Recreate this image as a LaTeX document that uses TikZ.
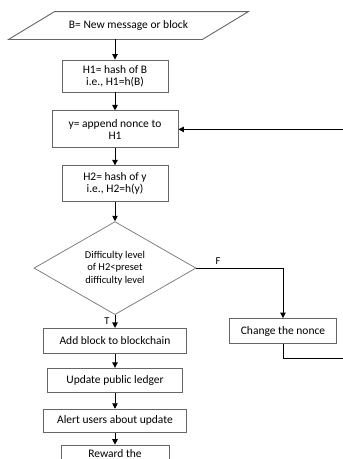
\documentclass[tikz,border=0pt]{standalone}
\usepackage{fontspec}
\setmainfont{Carlito}
\usetikzlibrary{positioning,shapes.geometric,arrows.meta}

\begin{document}
\begin{tikzpicture}[x=1pt,y=1pt,
  flowbox/.style={draw=black!60,line width=0.9pt,align=center,inner sep=2pt,font=\fontsize{11.5}{12}\selectfont},
  test/.style={diamond,draw=black!55,line width=0.7pt,aspect=1.75,inner sep=1pt,align=center,minimum width=162pt,minimum height=93pt,font=\fontsize{10.5}{12.7}\selectfont},
  arr/.style={-{Triangle[length=5.5pt,width=5.5pt]},line width=0.9pt},
  lbl/.style={font=\fontsize{10.5}{12}\selectfont,inner sep=5pt}]
\useasboundingbox (0,0) rectangle (343,-459);
\clip (0,0) rectangle (343,-459);
\node[flowbox,draw=none,minimum width=193pt,minimum height=27pt] (msg) at (128.5,-25.5) {B= New message or block};
\draw[draw=black!60,line width=0.9pt] ([xshift=23pt]msg.north west) -- ([xshift=23pt]msg.north east)
  -- ([xshift=-23pt]msg.south east) -- ([xshift=-23pt]msg.south west) -- cycle;
\node[flowbox,minimum width=106pt,minimum height=32pt] (h1) at (115,-76) {H1= hash of B\\i.e., H1=h(B)};
\node[flowbox,minimum width=126pt,minimum height=37pt,below=18pt of h1] (app) {y= append nonce to\\H1};
\node[flowbox,minimum width=106pt,minimum height=36pt,below=17pt of app] (h2) {H2= hash of y\\i.e., H2=h(y)};
\node[test,below=19pt of h2] (diff) {Difficulty level\\of H2<preset\\difficulty level};
\node[flowbox,minimum width=143pt,minimum height=25pt,below=13pt of diff] (add) {Add block to blockchain};
\node[flowbox,minimum width=135pt,minimum height=24pt,below=14pt of add] (ledger) {Update public ledger};
\node[flowbox,minimum width=143pt,minimum height=23pt,below=16pt of ledger] (alert) {Alert users about update};
\node[flowbox,minimum width=108pt,minimum height=16pt,below=12pt of alert] (reward) {Reward the};
\node[flowbox,minimum width=107pt,minimum height=25pt] (nonce) at (283,-331) {Change the nonce};
\coordinate (back) at (352,-358);

\draw[arr] (msg.south -| h1.north) -- (h1.north);
\draw[arr] (h1) -- (app);
\draw[arr] (app) -- (h2);
\draw[arr] (h2) -- (diff);
\draw[arr] (diff) -- node[lbl,left]{T} (add);
\draw[arr] (add) -- (ledger);
\draw[arr] (ledger) -- (alert);
\draw[arr] (alert) -- (reward);
\draw[arr] (diff.east) -| node[lbl,pos=0.125,above,inner sep=3pt]{F} (nonce.north);
\draw[arr] (nonce.south) |- (back) |- (app.east);
\end{tikzpicture}
\end{document}
